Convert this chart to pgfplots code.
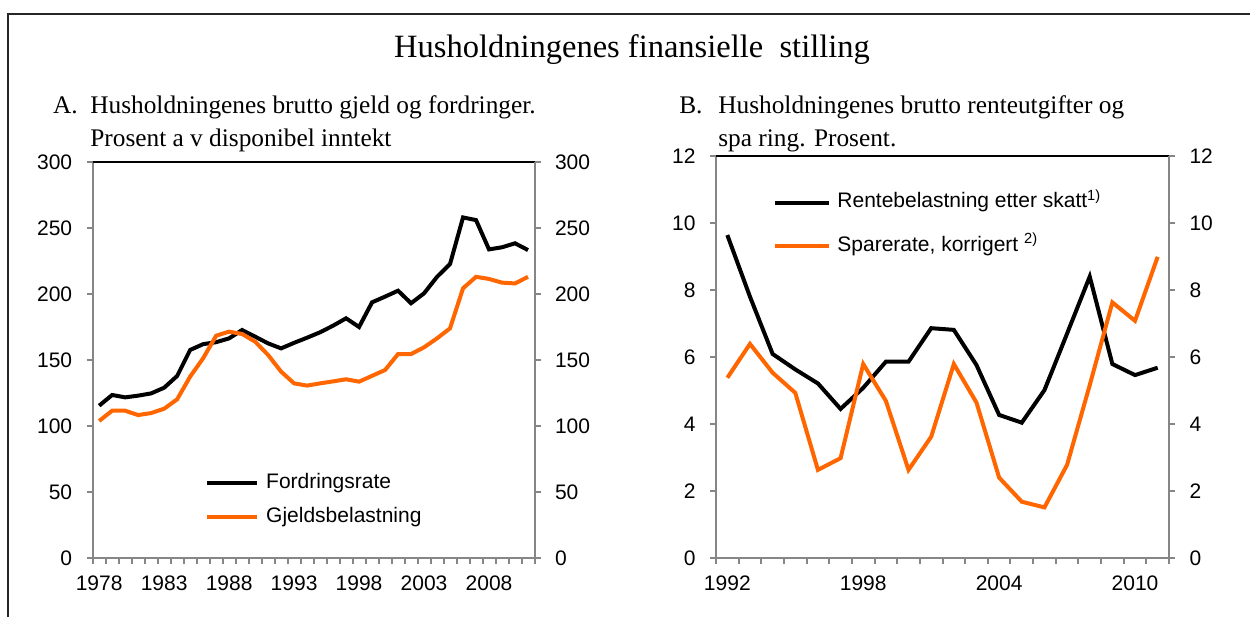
\documentclass[border=0pt]{standalone}
\usepackage{pgfplots}
\pgfplotsset{compat=1.18}
\usepackage{fontspec}
\setmainfont{Liberation Serif}
\newfontfamily\arial{Liberation Sans}
\definecolor{axgrey}{RGB}{134,134,134}
\definecolor{myorange}{RGB}{255,102,0}
\pgfplotsset{
  base/.style={
    scale only axis,
    axis line style={axgrey, line width=1.2pt},
    tick style={axgrey, line width=1.2pt},
    tick align=outside,
    major tick length=3.6pt,
    minor tick length=3.6pt,
    ticklabel style={font=\arial\fontsize{12.6}{15}\selectfont, inner sep=0pt},
    /pgf/number format/assume math mode=true,
    clip=false,
  },
}
\begin{document}
\begin{tikzpicture}
\useasboundingbox (0,0) rectangle (750pt,370.2pt);
\draw[line width=1.2pt, black!85] (4.8pt,0pt) -- (4.8pt,361.8pt) -- (750pt,361.8pt);
\node[anchor=base, font=\fontsize{19.5}{23}\selectfont] at (379.2pt,335.4pt) {Husholdningenes finansielle\ \ stilling};
\node[anchor=base west, inner sep=0pt, font=\fontsize{15.2}{19}\selectfont] at (31.6pt,301.8pt) {A.};
\node[anchor=base west, inner sep=0pt, font=\fontsize{15.2}{19}\selectfont] at (54pt,301.8pt) {Husholdningenes brutto gjeld og fordringer.};
\node[anchor=base west, inner sep=0pt, font=\fontsize{15.2}{19}\selectfont] at (54pt,282.2pt) {Prosent a v disponibel inntekt};
\node[anchor=base west, inner sep=0pt, font=\fontsize{15.2}{19}\selectfont] at (407.4pt,301.8pt) {B.};
\node[anchor=base west, inner sep=0pt, font=\fontsize{15.2}{19}\selectfont] at (430.8pt,301.8pt) {Husholdningenes brutto renteutgifter og};
\node[anchor=base west, inner sep=0pt, font=\fontsize{15.2}{19}\selectfont] at (430.8pt,282.2pt) {spa ring. Prosent.};

% ---------- Panel A ----------
\begin{axis}[base,
  at={(55.6pt,35.4pt)}, anchor=south west,
  width=265.1pt, height=237.6pt,
  xmin=1977.5, xmax=2011.5, ymin=0, ymax=300,
  axis x line*=bottom, axis y line*=left,
  xtick={1978,1983,...,2008},
  major x tick style={draw=none},
  minor xtick={1977.5,1978.5,...,2011.5},
  ytick={0,50,...,300},
  xticklabel style={yshift=-7pt},
  yticklabel style={xshift=-8.5pt},
  x tick label style={/pgf/number format/1000 sep={}},
  legend style={at={(0.254,0.215)}, anchor=north west, draw=none, fill=none, inner sep=0pt,
    row sep=8.9pt, column sep=4.2pt,
    nodes={inner sep=0pt, font=\arial\fontsize{12.6}{15}\selectfont, text height=9pt, text depth=2.7pt}},
  legend cell align=left,
  legend image code/.code={\draw[#1] (0pt,0pt) -- (30pt,0pt);},
]
\addplot[black, line width=2.4pt] coordinates {
(1978,115.4)(1979,123.5)(1980,121.7)(1981,123)(1982,124.7)(1983,129)(1984,137.9)(1985,157.6)
(1986,162)(1987,163.5)(1988,166.4)(1989,172.7)(1990,167.7)(1991,162.6)(1992,158.8)(1993,163)
(1994,166.9)(1995,171)(1996,176)(1997,181.6)(1998,175)(1999,193.7)(2000,198)(2001,202.5)
(2002,193)(2003,200.5)(2004,213)(2005,222.7)(2006,258)(2007,256)(2008,233.8)(2009,235.4)
(2010,238.4)(2011,233.3)};
\addlegendentry{Fordringsrate}
\addplot[myorange, line width=2.4pt] coordinates {
(1978,103.8)(1979,111.6)(1980,111.6)(1981,108.3)(1982,109.8)(1983,113.1)(1984,120.2)(1985,137.4)
(1986,151.3)(1987,168.4)(1988,171.5)(1989,169.7)(1990,163.9)(1991,153.8)(1992,141.2)(1993,132.3)
(1994,130.6)(1995,132.3)(1996,133.8)(1997,135.4)(1998,133.6)(1999,138)(2000,142.4)(2001,154.5)
(2002,154.5)(2003,159.6)(2004,166.4)(2005,174)(2006,204.3)(2007,213)(2008,211.4)(2009,208.6)
(2010,208)(2011,213)};
\addlegendentry{Gjeldsbelastning}
\end{axis}
\begin{axis}[base,
  at={(55.6pt,35.4pt)}, anchor=south west,
  width=265.1pt, height=237.6pt,
  xmin=1977.5, xmax=2011.5, ymin=0, ymax=300,
  axis x line*=top, axis y line*=right,
  x axis line style={black, line width=1.2pt},
  xtick=\empty,
  ytick={0,50,...,300},
  yticklabel style={xshift=8.5pt},
]
\addplot[draw=none] coordinates {(1978,0)};
\end{axis}

% ---------- Panel B ----------
\begin{axis}[base,
  at={(429.6pt,35.4pt)}, anchor=south west,
  width=271.8pt, height=241.2pt,
  xmin=1991.5, xmax=2011.5, ymin=0, ymax=12,
  axis x line*=bottom, axis y line*=left,
  xtick={1992,1998,2004,2010},
  major x tick style={draw=none},
  minor xtick={1991.5,1992.5,...,2011.5},
  ytick={0,2,...,12},
  xticklabel style={yshift=-7pt},
  yticklabel style={xshift=-8.5pt},
  x tick label style={/pgf/number format/1000 sep={}},
  legend style={at={(0.126,0.909)}, anchor=north west, draw=none, fill=none, inner sep=0pt,
    row sep=14.3pt, column sep=3.6pt,
    nodes={inner sep=0pt, font=\arial\fontsize{12.6}{15}\selectfont, text height=9pt, text depth=2.7pt}},
  legend cell align=left,
  legend image code/.code={\draw[#1] (0pt,0pt) -- (32.4pt,0pt);},
]
\addplot[black, line width=2.4pt] coordinates {
(1992,9.64)(1993,7.8)(1994,6.09)(1995,5.63)(1996,5.21)(1997,4.45)(1998,5.08)(1999,5.86)
(2000,5.86)(2001,6.86)(2002,6.81)(2003,5.76)(2004,4.27)(2005,4.04)(2006,5.01)(2007,6.7)
(2008,8.40)(2009,5.79)(2010,5.46)(2011,5.68)};
\addlegendentry{Rentebelastning etter skatt\textsuperscript{1)}}
\addplot[myorange, line width=2.4pt] coordinates {
(1992,5.38)(1993,6.39)(1994,5.53)(1995,4.93)(1996,2.63)(1997,2.98)(1998,5.79)(1999,4.69)
(2000,2.63)(2001,3.62)(2002,5.79)(2003,4.64)(2004,2.40)(2005,1.68)(2006,1.51)(2007,2.78)
(2008,5.16)(2009,7.63)(2010,7.08)(2011,8.99)};
\addlegendentry{Sparerate, korrigert \textsuperscript{2)}}
\end{axis}
\begin{axis}[base,
  at={(429.6pt,35.4pt)}, anchor=south west,
  width=271.8pt, height=241.2pt,
  xmin=1991.5, xmax=2011.5, ymin=0, ymax=12,
  axis x line*=top, axis y line*=right,
  x axis line style={black, line width=1.2pt},
  xtick=\empty,
  ytick={0,2,...,12},
  yticklabel style={xshift=8.5pt},
]
\addplot[draw=none] coordinates {(1992,0)};
\end{axis}
\end{tikzpicture}
\end{document}
